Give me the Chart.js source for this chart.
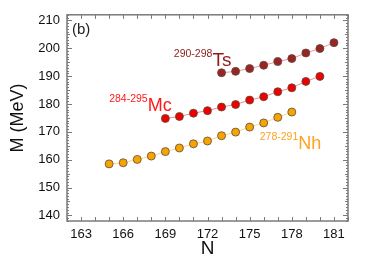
<!DOCTYPE html>
<html>
<head>
<meta charset="utf-8">
<script src="https://cdn.jsdelivr.net/npm/chart.js@4/dist/chart.umd.min.js"></script>
<style>
  html,body{margin:0;padding:0;background:#fff;}
  #wrap{width:374px;height:262px;position:relative;}
</style>
</head>
<body>
<div id="wrap"><canvas id="chart" width="374" height="262"></canvas></div>
<script>
// neutron numbers and masses (MeV) per isotope chain
const nhN = [165,166,167,168,169,170,171,172,173,174,175,176,177,178];
const nhM = [158.5,158.9,160.1,161.3,162.9,164.2,165.7,166.7,168.6,169.9,171.7,173.2,175.2,177.1];
const mcN = [169,170,171,172,173,174,175,176,177,178,179,180];
const mcM = [174.8,175.5,176.7,177.6,178.9,179.8,181.4,182.6,184.4,185.8,188.1,189.9];
const tsN = [173,174,175,176,177,178,179,180,181];
const tsM = [191.2,191.7,192.7,193.9,195.2,196.3,198.3,199.9,202.0];
const xTicks = [163,166,169,172,175,178,181];
const yTicks = [140,150,160,170,180,190,200,210];

// isotope chain labels, anchored at the right end of the element symbol
const labels = [
  {sup:'290-298', name:'Ts', n:173.7, m:193.6, color:'#8e1c1c', size:19},
  {sup:'284-295', name:'Mc', n:169.45, m:177.5, color:'#ff1a1a', size:18},
  {sup:'278-291', name:'Nh', n:180.1, m:163.9, color:'#ffa21f', size:18}
];

const pts = (xs, ys) => xs.map((x,i)=>({x:x, y:ys[i]}));
const series = (data, fill, line) => ({
  data: data, showLine: true, borderColor: line, borderWidth: 1,
  pointBackgroundColor: fill, pointBorderColor: '#5a4a40', pointBorderWidth: 0.8,
  pointRadius: 4, pointHoverRadius: 4
});

const frame = {
  id: 'frame',
  afterDraw(chart){
    const c = chart.ctx, a = chart.chartArea;
    const xs = chart.scales.x, ys = chart.scales.y;
    c.save();
    c.strokeStyle = '#7a7a7a';
    c.lineWidth = 1;
    for(let n=Math.ceil(xs.min); n<=xs.max; n++){
      const px = Math.round(xs.getPixelForValue(n))+0.5;
      c.beginPath();
      c.moveTo(px,a.bottom); c.lineTo(px,a.bottom-4);
      c.moveTo(px,a.top); c.lineTo(px,a.top+4);
      c.stroke();
    }
    for(let m=Math.ceil(ys.min); m<=ys.max; m++){
      const py = Math.round(ys.getPixelForValue(m))+0.5;
      const len = m%10===0 ? 5 : (m%5===0 ? 3 : 2);
      c.beginPath();
      c.moveTo(a.left,py); c.lineTo(a.left+len,py);
      c.moveTo(a.right,py); c.lineTo(a.right-len,py);
      c.stroke();
    }
    c.lineWidth = 1.5;
    c.strokeRect(a.left, a.top, a.right-a.left, a.bottom-a.top);

    c.fillStyle = '#222';
    c.font = '15px "Liberation Sans", Arial, sans-serif';
    c.textBaseline = 'alphabetic';
    c.textAlign = 'left';
    c.fillText('(b)', a.left+5, a.top+19);

    labels.forEach(l=>{
      const x = xs.getPixelForValue(l.n), y = ys.getPixelForValue(l.m);
      c.fillStyle = l.color;
      c.font = l.size + 'px "Liberation Sans", Arial, sans-serif';
      c.textAlign = 'right';
      c.fillText(l.name, x, y);
      const w = c.measureText(l.name).width;
      c.font = '10.5px "Liberation Sans", Arial, sans-serif';
      c.fillText(l.sup, x-w, y-9);
    });
    c.restore();
  }
};

new Chart(document.getElementById('chart'), {
  type: 'scatter',
  data: { datasets: [
    series(pts(nhN,nhM), '#f7a400', '#ffd585'),
    series(pts(mcN,mcM), '#ee0000', '#f28a8a'),
    series(pts(tsN,tsM), '#992424', '#f29494')
  ]},
  options: {
    responsive: false, animation: false,
    layout: { padding: {left: 7, top: 14, right: 26, bottom: 0} },
    plugins: { legend: {display:false}, tooltip: {enabled:false} },
    scales: {
      x: {
        type: 'linear', min: 162, max: 182,
        afterBuildTicks: s => { s.ticks = xTicks.map(v=>({value:v})); },
        afterFit: s => { s.height = 41; },
        grid: { display: false, drawTicks: false },
        border: { display: false },
        ticks: { color: '#111', padding: 6, font: {size: 13, family: '"Liberation Sans", Arial, sans-serif'} },
        title: { display: true, text: 'N', color: '#111', padding: {top: 0, bottom: 2},
                 font: {size: 19, family: '"Liberation Sans", Arial, sans-serif'} }
      },
      y: {
        min: 138, max: 212,
        afterBuildTicks: s => { s.ticks = yTicks.map(v=>({value:v})); },
        afterFit: s => { s.width = 60; },
        grid: { display: false, drawTicks: false },
        border: { display: false },
        ticks: { color: '#111', padding: 7, font: {size: 13, family: '"Liberation Sans", Arial, sans-serif'} },
        title: { display: true, text: 'M (MeV)', color: '#111', padding: {top: 0, bottom: 0},
                 font: {size: 18, family: '"Liberation Sans", Arial, sans-serif'} }
      }
    }
  },
  plugins: [frame]
});
</script>
</body>
</html>
